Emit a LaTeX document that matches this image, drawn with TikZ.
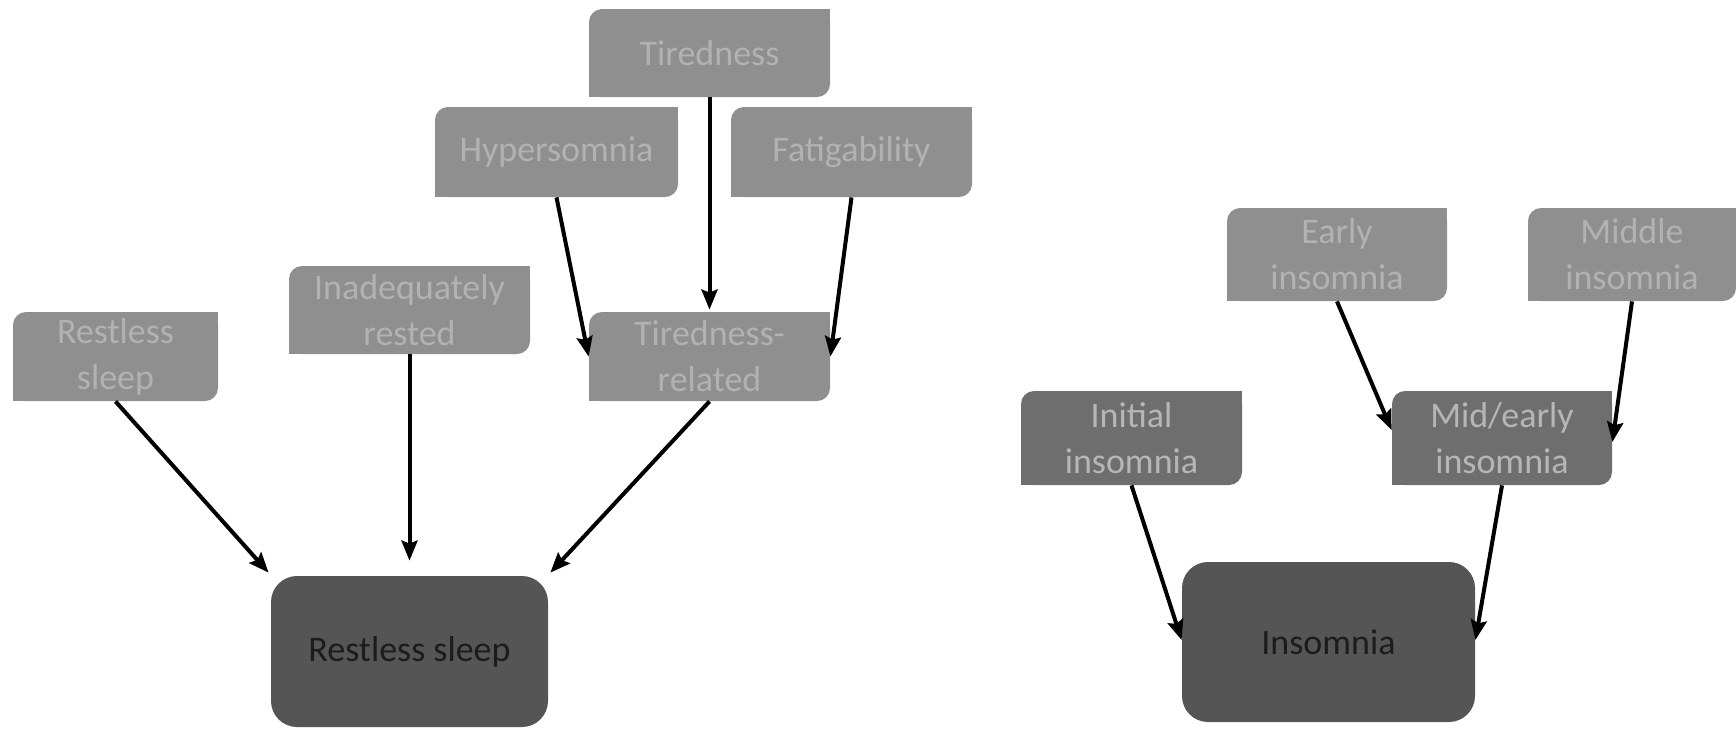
\documentclass[tikz,border=0pt]{standalone}
\usepackage{fontspec}
\setmainfont{Carlito}
\usetikzlibrary{arrows.meta}
\pgfdeclarelayer{background}
\pgfsetlayers{background,main}
\definecolor{lgray}{HTML}{8F8F8F}
\definecolor{ltext}{HTML}{B2B2B2}
\definecolor{mgray}{HTML}{6E6E6E}
\definecolor{mtext}{HTML}{B6B6B6}
\definecolor{dgray}{HTML}{555555}
\definecolor{dtext}{HTML}{1C1C1C}
\tikzset{
  basebox/.style={inner sep=0pt, align=center, font=\fontsize{18}{23}\selectfont},
  lbox/.style={basebox, fill=lgray, text=ltext, rounded corners=6.5pt},
  mbox/.style={basebox, fill=mgray, text=mtext, rounded corners=6.5pt},
  dbox/.style={basebox, fill=dgray, text=dtext, rounded corners=13pt},
  arr/.style={line width=2pt, -{Stealth[length=10pt,width=8pt,inset=1.5pt]}},
}
\newcommand\sqcorners[2]{%
  \fill[#2] (#1.north east) rectangle ++(-20,20);
  \fill[#2] (#1.south west) rectangle ++(20,-20);}
\begin{document}
\begin{tikzpicture}[x=0.5pt,y=-0.5pt]
\useasboundingbox (0,0) rectangle (1736,729);
% left group
\node[lbox, minimum width=120.5pt, minimum height=44pt] (tir) at (709.5,53) {Tiredness};
\node[lbox, minimum width=121.5pt, minimum height=45pt] (hyp) at (556.5,152) {Hypersomnia};
\node[lbox, minimum width=120.5pt, minimum height=45pt] (fat) at (851.5,152) {Fatigability};
\node[lbox, minimum width=120.5pt, minimum height=44pt] (inad) at (409.5,310) {Inadequately\\rested};
\node[lbox, minimum width=102.5pt, minimum height=44.5pt] (rs) at (115.5,356.5) {Restless\\sleep};
\node[lbox, minimum width=120.5pt, minimum height=44.5pt] (tr) at (709.5,356.5) {Tiredness-\\related};
\node[dbox, minimum width=138.5pt, minimum height=75.5pt] (big) at (409.5,651.5) {Restless sleep};
% right group
\node[lbox, minimum width=110pt, minimum height=46.5pt] (early) at (1337,254.5) {Early\\insomnia};
\node[lbox, minimum width=104pt, minimum height=46.5pt] (middle) at (1632,254.5) {Middle\\insomnia};
\node[mbox, minimum width=110.5pt, minimum height=47pt] (initial) at (1131.5,438) {Initial\\insomnia};
\node[mbox, minimum width=110pt, minimum height=47pt] (mid) at (1502,438) {Mid/early\\insomnia};
\node[dbox, minimum width=146.5pt, minimum height=80pt] (ins) at (1328.5,642) {Insomnia};
\begin{pgfonlayer}{background}
  \sqcorners{tir}{lgray}
  \sqcorners{hyp}{lgray}
  \sqcorners{fat}{lgray}
  \sqcorners{inad}{lgray}
  \sqcorners{rs}{lgray}
  \sqcorners{tr}{lgray}
  \sqcorners{early}{lgray}
  \sqcorners{middle}{lgray}
  \sqcorners{initial}{mgray}
  \sqcorners{mid}{mgray}
\end{pgfonlayer}
% connectors
\draw[arr] (rs.south) -- ([shift={(-2,-3)}]big.north west);
\draw[arr, shorten >=7.5pt] (inad.south) -- (big.north);
\draw[arr] (tr.south) -- ([shift={(2,-3)}]big.north east);
\draw[arr, shorten >=1pt] (tir.south) -- (tr.north);
\draw[arr] (hyp.south) -- (tr.west);
\draw[arr] (fat.south) -- (tr.east);
\draw[arr] (early.south) -- ([yshift=4pt]mid.west);
\draw[arr] (middle.south) -- ([yshift=-2pt]mid.east);
\draw[arr] (initial.south) -- ([yshift=1pt]ins.west);
\draw[arr] (mid.south) -- ([yshift=1pt]ins.east);
\end{tikzpicture}
\end{document}
